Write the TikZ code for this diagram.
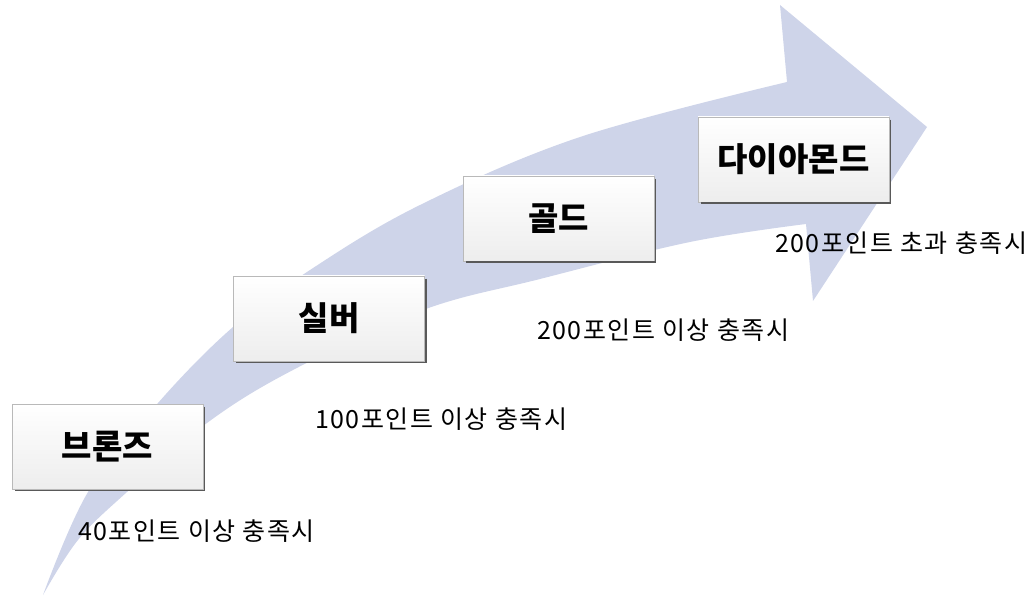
\documentclass[tikz,border=0pt]{standalone}
\usepackage{fontspec}
\newfontfamily\kr{Noto Sans CJK KR}
\newfontfamily\krsp{Noto Sans CJK KR}[LetterSpace=6]
\usetikzlibrary{calc}
\definecolor{arrowblue}{RGB}{206,212,233}
\tikzset{
  tier/.style={draw=gray!55, line width=0.6pt, top color=white, bottom color=gray!14,
    minimum width=191pt, minimum height=85pt, inner sep=0pt,
    font=\kr\bfseries\fontsize{33}{33}\selectfont},
  note/.style={anchor=west, inner sep=0pt, font=\krsp\fontsize{25}{25}\selectfont},
  shadowline/.style={draw=black!65, line width=1.6pt},
  bandfill/.style={fill=arrowblue}
}
\newcommand{\tiershadow}[1]{%
  \draw[shadowline] ($(#1.north east)+(1,3)$) -- ($(#1.south east)+(1,1)$) -- ($(#1.south west)+(3,1)$);}
\begin{document}
\begin{tikzpicture}[x=1pt,y=-1pt]
\useasboundingbox (0,0) rectangle (1034,596);
% big curved arrow
\fill[bandfill] plot[smooth, tension=0.6] coordinates {(43,595) (88,492) (158,403) (233,327) (310,270) (420,205) (580,137) (787,82)}
  -- (780,5) -- (927,127) -- (813,301) -- (806,224)
  -- plot[smooth, tension=0.6] coordinates {(806,224) (690,242) (540,279) (423,310) (293,370) (207,423) (127,492) (78,540) (43,595)} -- cycle;
% tier boxes
\node[tier] (b1) at (107.5,446.5) {브론즈};
\node[tier] (b2) at (329,318.5) {실버};
\node[tier] (b3) at (558.5,218.5) {골드};
\node[tier] (b4) at (793.5,159.5) {다이아몬드};
\tiershadow{b1}
\tiershadow{b2}
\tiershadow{b3}
\tiershadow{b4}
% labels
\node[note] (l1) at (78,531) {40포인트 이상 충족시};
\node[note] (l2) at (315,419) {100포인트 이상 충족시};
\node[note] (l3) at (537,330) {200포인트 이상 충족시};
\node[note] (l4) at (775,243) {200포인트 초과 충족시};
\end{tikzpicture}
\end{document}
